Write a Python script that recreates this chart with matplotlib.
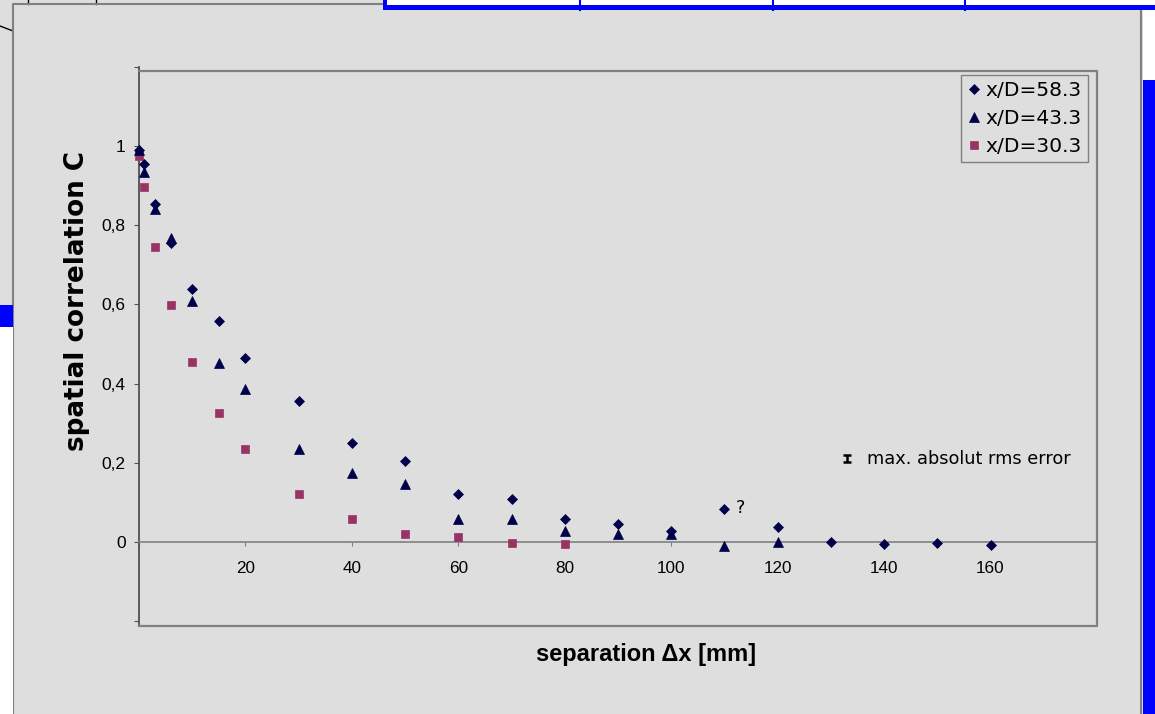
import matplotlib
matplotlib.use('Agg')
import matplotlib.pyplot as plt
from matplotlib.lines import Line2D
from matplotlib.patches import Rectangle

# separation [mm] and spatial correlation for the three stations
sep_58 = [0, 1, 3, 6, 10, 15, 20, 30, 40, 50, 60, 70, 80, 90, 100, 110, 120, 130, 140, 150, 160]
c_58 = [0.99, 0.955, 0.853, 0.754, 0.639, 0.558, 0.464, 0.355, 0.250, 0.205, 0.122,
        0.108, 0.058, 0.045, 0.027, 0.084, 0.039, 0.001, -0.005, -0.002, -0.008]

sep_43 = [0, 1, 3, 6, 10, 15, 20, 30, 40, 50, 60, 70, 80, 90, 100, 110, 120]
c_43 = [0.99, 0.933, 0.841, 0.767, 0.609, 0.453, 0.387, 0.236, 0.175, 0.147, 0.058,
        0.058, 0.029, 0.020, 0.019, -0.009, -0.001]

sep_30 = [0, 1, 3, 6, 10, 15, 20, 30, 40, 50, 60, 70, 80]
c_30 = [0.975, 0.897, 0.745, 0.599, 0.454, 0.326, 0.235, 0.122, 0.059, 0.019, 0.013,
        -0.003, -0.006]

labels = ['x/D=58.3', 'x/D=43.3', 'x/D=30.3']

# sample error bar for the rms error note
err_x = 133
err_y = 0.21
rms_err = 0.009

x_ticks = [0, 20, 40, 60, 80, 100, 120, 140, 160, 180]
x_ticklabels = ['', '20', '40', '60', '80', '100', '120', '140', '160', '']
y_ticks = [-0.2, 0, 0.2, 0.4, 0.6, 0.8, 1.0, 1.2]
y_ticklabels = ['', '0', '0,2', '0,4', '0,6', '0,8', '1', '']

W, H = 1155, 714
bg = '#dedede'
navy = '#00004a'
plum = '#993366'
blue = '#0000ff'


def fx(px):
    return px / W


def fy(py):
    return 1 - py / H


fig = plt.figure(figsize=(W / 100, H / 100), dpi=100, facecolor=bg)

# bits of the surrounding page
fig.patches.append(Rectangle((fx(383), fy(10)), fx(W - 383), 10 / H, transform=fig.transFigure,
                             facecolor='white', edgecolor='none', zorder=5))
fig.patches.append(Rectangle((fx(383), fy(10)), fx(W - 383), 5 / H, transform=fig.transFigure,
                             facecolor=blue, edgecolor='none', zorder=6))
fig.patches.append(Rectangle((fx(383), fy(10)), 4 / W, 10 / H, transform=fig.transFigure,
                             facecolor=blue, edgecolor='none', zorder=6))
for xd in [580, 773, 965]:
    fig.lines.append(Line2D([fx(xd), fx(xd)], [fy(0), fy(10)], transform=fig.transFigure,
                            color=blue, lw=1.5, zorder=6))
fig.patches.append(Rectangle((fx(1143), 0), fx(W - 1143), fy(10), transform=fig.transFigure,
                             facecolor='white', edgecolor='none', zorder=5))
fig.patches.append(Rectangle((fx(1143), 0), fx(W - 1143), fy(80), transform=fig.transFigure,
                             facecolor=blue, edgecolor='none', zorder=6))
fig.patches.append(Rectangle((0, 0), fx(13), fy(327), transform=fig.transFigure,
                             facecolor='white', edgecolor='none', zorder=5))
fig.patches.append(Rectangle((0, fy(327)), fx(13), 22 / H, transform=fig.transFigure,
                             facecolor=blue, edgecolor='none', zorder=6))
fig.lines.append(Line2D([0, fx(13)], [fy(26), fy(31)], transform=fig.transFigure, color='black', lw=1))
for xd in [28, 96]:
    fig.lines.append(Line2D([fx(xd), fx(xd)], [fy(0), fy(4)], transform=fig.transFigure, color='black', lw=1))

# chart border
fig.lines.append(Line2D([fx(13), fx(13), fx(383)], [0, fy(4), fy(4)], transform=fig.transFigure,
                        color='#808080', lw=1.5, zorder=4))
fig.lines.append(Line2D([fx(1141), fx(1141)], [0, fy(10)], transform=fig.transFigure,
                        color='#808080', lw=1.5, zorder=4))

ax = fig.add_axes([fx(139), fy(626), fx(1097) - fx(139), (626 - 66.7) / H])
ax.set_facecolor(bg)
ax.set_xlim(0, 180)
ax.set_ylim(-0.2121, 1.2)

for side in ['top', 'right']:
    ax.spines[side].set_visible(False)
ax.spines['left'].set_color('#505050')
ax.spines['left'].set_linewidth(1.3)
ax.spines['bottom'].set_position(('data', 0))
ax.spines['bottom'].set_color('#808080')
ax.spines['bottom'].set_linewidth(1.2)

# plot area frame
fig.lines.append(Line2D([fx(139), fx(1097), fx(1097), fx(139)], [fy(70.7), fy(70.7), fy(626), fy(626)],
                        transform=fig.transFigure, color='#808080', lw=1.6, zorder=3))

ax.set_xticks(x_ticks)
ax.set_xticklabels(x_ticklabels, fontfamily='Liberation Sans', fontsize=12.3)
ax.set_yticks(y_ticks)
ax.set_yticklabels(y_ticklabels, fontfamily='Liberation Sans', fontsize=12.5)
ax.tick_params(axis='x', direction='out', length=3, color='#808080', pad=11)
ax.tick_params(axis='y', direction='out', length=3.6, color='#505050', pad=6)

h30, = ax.plot(sep_30, c_30, 's', ms=6.4, color=plum, mec=plum, mew=0.5, zorder=4, clip_on=False)
h58, = ax.plot(sep_58, c_58, 'D', ms=4.9, color=navy, mec=navy, mew=0.5, zorder=5, clip_on=False)
h43, = ax.plot(sep_43, c_43, '^', ms=6.8, color=navy, mec=navy, mew=0.5, zorder=6, clip_on=False)

ax.errorbar([err_x], [err_y], yerr=[rms_err], fmt='none', ecolor='black', elinewidth=1.8,
            capsize=3.2, capthick=1.8)
ax.text(err_x + 3.8, err_y, 'max. absolut rms error', fontsize=12.8, va='center', ha='left',
        color='black')
ax.text(110 + 2.2, 0.086, '?', fontsize=12.8, va='center', ha='left', color='black')

leg = ax.legend([h58, h43, h30], labels, loc='upper right',
                bbox_to_anchor=(fx(1088), fy(75)), bbox_transform=fig.transFigure,
                borderaxespad=0, fancybox=False, framealpha=1, facecolor=bg, edgecolor='#808080',
                prop={'size': 14.6}, handlelength=0.6, handletextpad=0.3, borderpad=0.3,
                labelspacing=0.45)
leg.get_frame().set_linewidth(1.0)

fig.text(fx(646), fy(654), 'separation \u0394x [mm]', fontfamily='Liberation Sans', fontweight='bold',
         fontsize=17, ha='center', va='center')
fig.text(fx(77), fy(301), 'spatial correlation C', fontweight='bold', fontsize=18.8,
         rotation=90, ha='center', va='center')

fig.savefig('out.png', dpi=100, facecolor=bg)
